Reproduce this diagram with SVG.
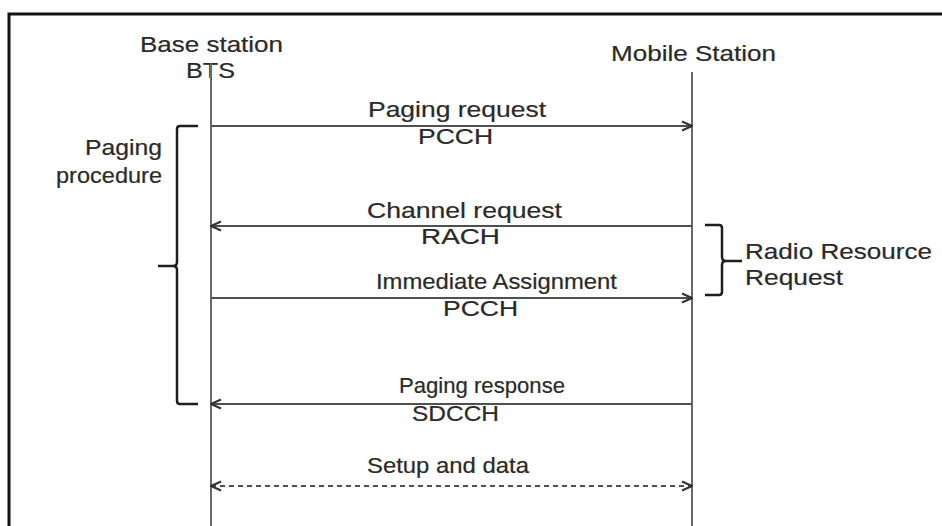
<svg xmlns="http://www.w3.org/2000/svg" width="942" height="526" viewBox="0 0 942 526">
  <style>
    .lbl { font-family: "Liberation Sans", Arial, sans-serif; font-size: 21.5px; fill: #2a2a2a; stroke: #2a2a2a; stroke-width: 0.2; }
    .end { text-anchor: end; }
    .life { stroke: #6a6a6a; stroke-width: 2; fill: none; }
    .msg { stroke: #505050; stroke-width: 2; fill: none; }
    .dash { stroke-dasharray: 5 4; }
    .brace { stroke: #1e1e1e; stroke-width: 2.5; fill: none; stroke-linejoin: round; }
  </style>
  <defs>
    <marker id="head" viewBox="0 0 12 12" refX="11" refY="6" markerWidth="12" markerHeight="12" markerUnits="userSpaceOnUse" orient="auto-start-reverse">
      <path d="M1,1.5 L11,6 L1,10.5" fill="none" stroke="#333" stroke-width="2"/>
    </marker>
  </defs>
  <rect width="942" height="526" fill="#ffffff"/>
  <!-- outer frame (open to the right and bottom) -->
  <path d="M9,526 L9,14 L942,14" fill="none" stroke="#111" stroke-width="3"/>

  <!-- participants -->
  <g id="bts">
    <text class="lbl" x="140" y="52" textLength="143" lengthAdjust="spacingAndGlyphs">Base station</text>
    <text class="lbl" x="186" y="78" textLength="49" lengthAdjust="spacingAndGlyphs">BTS</text>
    <line class="life" x1="211" y1="63" x2="211" y2="526"/>
  </g>
  <g id="ms">
    <text class="lbl" x="611" y="61" textLength="165" lengthAdjust="spacingAndGlyphs">Mobile Station</text>
    <line class="life" x1="692" y1="72" x2="692" y2="526"/>
  </g>

  <!-- messages -->
  <g id="connectors">
    <line class="msg" x1="211" y1="126" x2="692" y2="126" marker-end="url(#head)"/>
    <line class="msg" x1="692" y1="226" x2="211" y2="226" marker-end="url(#head)"/>
    <line class="msg" x1="211" y1="298" x2="692" y2="298" marker-end="url(#head)"/>
    <line class="msg" x1="692" y1="404" x2="211" y2="404" marker-end="url(#head)"/>
    <line class="msg dash" x1="211" y1="486" x2="692" y2="486" marker-start="url(#head)" marker-end="url(#head)"/>
  </g>

  <g id="msg-labels">
    <text class="lbl" x="368" y="117" textLength="178" lengthAdjust="spacingAndGlyphs">Paging request</text>
    <text class="lbl" x="418" y="144" textLength="75" lengthAdjust="spacingAndGlyphs">PCCH</text>
    <text class="lbl" x="367" y="218" textLength="195" lengthAdjust="spacingAndGlyphs">Channel request</text>
    <text class="lbl" x="421" y="244" textLength="79" lengthAdjust="spacingAndGlyphs">RACH</text>
    <text class="lbl" x="376" y="289" textLength="241" lengthAdjust="spacingAndGlyphs">Immediate Assignment</text>
    <text class="lbl" x="443" y="316" textLength="75" lengthAdjust="spacingAndGlyphs">PCCH</text>
    <text class="lbl" x="399" y="393" textLength="166" lengthAdjust="spacingAndGlyphs">Paging response</text>
    <text class="lbl" x="412" y="421" textLength="87" lengthAdjust="spacingAndGlyphs">SDCCH</text>
    <text class="lbl" x="367" y="473" textLength="162" lengthAdjust="spacingAndGlyphs">Setup and data</text>
  </g>

  <!-- paging procedure brace -->
  <g id="paging-procedure">
    <path class="brace" d="M198,126 L180,126 Q177,126 177,129 L177,262 Q177,266 173,266 L158,266 M173,266 Q177,266 177,270 L177,401 Q177,404 180,404 L198,404"/>
    <text class="lbl end" x="162" y="155" textLength="77" lengthAdjust="spacingAndGlyphs">Paging</text>
    <text class="lbl end" x="162" y="183" textLength="106" lengthAdjust="spacingAndGlyphs">procedure</text>
  </g>

  <!-- radio resource request brace -->
  <g id="radio-resource-request">
    <path class="brace" d="M705,225 L719,225 Q722,225 722,228 L722,257 Q722,261 726,261 L742,261 M726,261 Q722,261 722,265 L722,292 Q722,295 719,295 L705,295"/>
    <text class="lbl" x="745" y="259" textLength="187" lengthAdjust="spacingAndGlyphs">Radio Resource</text>
    <text class="lbl" x="745" y="285" textLength="98" lengthAdjust="spacingAndGlyphs">Request</text>
  </g>
</svg>
